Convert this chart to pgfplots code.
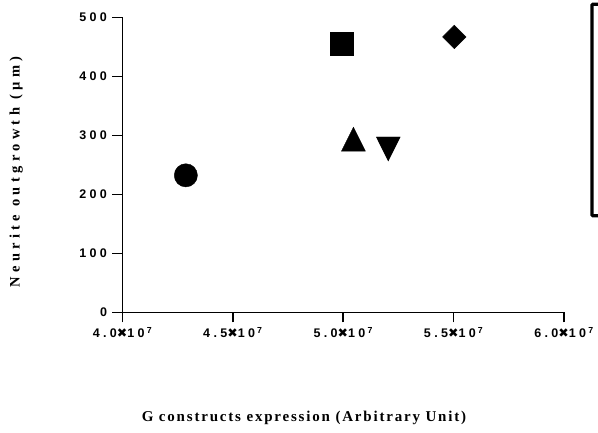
\documentclass[border=0pt]{standalone}
\usepackage{fontspec}
\usepackage{pgfplots}
\pgfplotsset{compat=1.18}
\setmainfont{Liberation Sans}
\newfontfamily\tickfont[LetterSpace=27]{Liberation Sans}
\newfontfamily\xlabfont[LetterSpace=12]{Liberation Serif}
\newfontfamily\ylabfont[LetterSpace=30]{Liberation Serif}
\newfontfamily\symfont{DejaVu Sans}
\newcommand{\tms}{{\symfont\bfseries\char"2716}}
\newcommand{\sci}[1]{#1\tms10\,\textsuperscript{7}}

\begin{document}
\begin{tikzpicture}
\useasboundingbox (-122.5pt,-120.5pt) rectangle (475.5pt,312.5pt);
\begin{axis}[
  scale only axis,
  width=441.5pt, height=295pt,
  xmin=4e7, xmax=6e7, ymin=0, ymax=500,
  scaled x ticks=false,
  axis lines=left,
  axis line style={line width=1.6pt, -},
  tick style={line width=1.6pt, black},
  major tick length=10pt,
  tick align=outside,
  xtick={4e7,4.5e7,5e7,5.5e7,6e7},
  xticklabels={\sci{4.0},\sci{4.5},\sci{5.0},\sci{5.5},\sci{6.0}},
  ytick={0,100,200,300,400,500},
  yticklabels={0,100,200,300,400,500},
  ticklabel style={font=\tickfont\bfseries\fontsize{12.5}{14}\selectfont},
  yticklabel style={xshift=-2pt},
  xticklabel style={yshift=-1pt},
  xlabel={G constructs expression (Arbitrary Unit)},
  ylabel={Neurite outgrowth (µm)},
  xlabel style={font=\xlabfont\bfseries\fontsize{15}{17}\selectfont,
    at={(axis description cs:0.411,-0.368)}, anchor=base},
  ylabel style={font=\ylabfont\bfseries\fontsize{14.5}{16}\selectfont,
    at={(axis description cs:-0.241,0.476)}, anchor=center, rotate=0},
  clip=false,
]
\addplot[only marks, mark=*, mark size=11.6pt, black] coordinates {(4.287e7,232.5)};
\addplot[only marks, mark=square*, mark size=11.6pt, black] coordinates {(4.993e7,455)};
\addplot[only marks, mark=triangle*, mark size=12pt, black, mark options={xscale=1.15,yscale=1.33}] coordinates {(5.046e7,287)};
\addplot[only marks, mark=triangle*, mark size=12pt, black, mark options={rotate=180,xscale=1.15,yscale=1.33}] coordinates {(5.204e7,284)};
\addplot[only marks, mark=square*, mark size=8.3pt, black, mark options={rotate=45}] coordinates {(5.503e7,467)};
\end{axis}
\draw[line width=3.3pt, rounded corners=1pt] (469.5pt,308.2pt) rectangle (560pt,96.8pt);
\end{tikzpicture}
\end{document}
